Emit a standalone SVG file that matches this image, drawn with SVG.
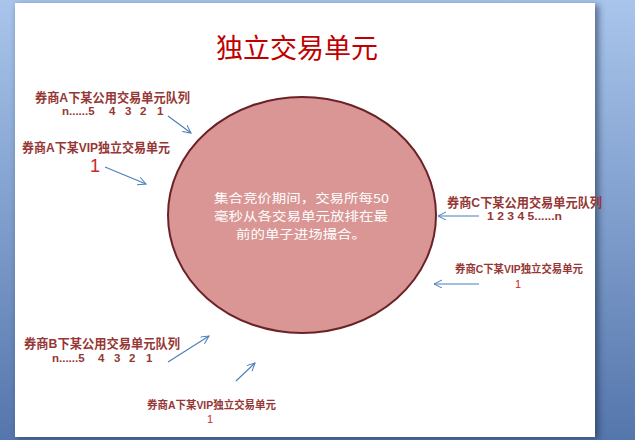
<svg xmlns="http://www.w3.org/2000/svg" width="635" height="440" viewBox="0 0 635 440">
<defs>
<linearGradient id="bg" x1="0" y1="0" x2="0" y2="1">
<stop offset="0" stop-color="#a9c5ec"/>
<stop offset="1" stop-color="#5576ac"/>
</linearGradient>
<filter id="sh" x="-5%" y="-5%" width="110%" height="110%">
<feGaussianBlur stdDeviation="3"/>
</filter>
<marker id="ah" markerWidth="10" markerHeight="10" refX="8" refY="4" orient="auto" markerUnits="userSpaceOnUse">
<path d="M0,0 L8,4 L0,8" fill="none" stroke="#4a7ebb" stroke-width="1"/>
</marker>
<style>
.lbl{font-family:"Liberation Sans","Noto Sans CJK SC",sans-serif;font-weight:bold;fill:#953735}
.red{font-family:"Liberation Sans","Noto Sans CJK SC",sans-serif;fill:#c8282c}
.con{stroke:#4a7ebb;stroke-width:1.1;fill:none;marker-end:url(#ah)}
.ctr{font-family:"Noto Sans CJK SC",sans-serif;font-size:12.4px;fill:#ffffff}
</style>
</defs>
<rect x="0" y="0" width="635" height="440" fill="url(#bg)"/>
<rect x="17" y="5" width="582" height="434" fill="#1e2d48" opacity="0.55" filter="url(#sh)"/>
<rect x="15" y="3" width="580" height="434" fill="#ffffff"/>
<text x="297" y="58" text-anchor="middle" font-family="Noto Sans CJK SC,sans-serif" font-size="27" fill="#c00000">独立交易单元</text>
<g id="center">
<ellipse cx="302" cy="215" rx="134" ry="118" fill="#d99694" stroke="#6b2226" stroke-width="2"/>
<text class="ctr" x="214" y="203" textLength="175" lengthAdjust="spacingAndGlyphs">集合竞价期间，交易所每50</text>
<text class="ctr" x="214" y="221" textLength="174" lengthAdjust="spacingAndGlyphs">毫秒从各交易单元放排在最</text>
<text class="ctr" x="236" y="239" textLength="130" lengthAdjust="spacingAndGlyphs">前的单子进场撮合。</text>
</g>
<g id="a-public">
<text class="lbl" x="35" y="102" font-size="13" textLength="155" lengthAdjust="spacingAndGlyphs">券商A下某公用交易单元队列</text>
<text class="lbl" y="115" font-size="11.5"><tspan x="62">n......5</tspan><tspan x="109">4</tspan><tspan x="125">3</tspan><tspan x="140">2</tspan><tspan x="157">1</tspan></text>
</g>
<g id="a-vip">
<text class="lbl" x="22" y="152" font-size="13" textLength="148" lengthAdjust="spacingAndGlyphs">券商A下某VIP独立交易单元</text>
<text class="red" x="95" y="172" font-size="18" text-anchor="middle">1</text>
</g>
<g id="c-public">
<text class="lbl" x="447" y="207" font-size="13" textLength="155" lengthAdjust="spacingAndGlyphs">券商C下某公用交易单元队列</text>
<text class="lbl" x="487" y="220" font-size="11.5" textLength="75" lengthAdjust="spacingAndGlyphs">1 2 3 4 5......n</text>
</g>
<g id="c-vip">
<text class="lbl" x="455" y="273" font-size="11" textLength="128" lengthAdjust="spacingAndGlyphs">券商C下某VIP独立交易单元</text>
<text class="red" x="518" y="288" font-size="11" text-anchor="middle">1</text>
</g>
<g id="b-public">
<text class="lbl" x="24" y="348" font-size="13" textLength="156" lengthAdjust="spacingAndGlyphs">券商B下某公用交易单元队列</text>
<text class="lbl" y="362" font-size="11.5"><tspan x="52">n......5</tspan><tspan x="98">4</tspan><tspan x="114">3</tspan><tspan x="129">2</tspan><tspan x="146">1</tspan></text>
</g>
<g id="a-vip-2">
<text class="lbl" x="147" y="409" font-size="11" textLength="129" lengthAdjust="spacingAndGlyphs">券商A下某VIP独立交易单元</text>
<text class="red" x="210" y="423" font-size="11" text-anchor="middle">1</text>
</g>
<g id="connectors">
<line class="con" x1="168" y1="116" x2="191" y2="133"/>
<line class="con" x1="105" y1="167" x2="146" y2="184"/>
<line class="con" x1="479" y1="216" x2="438" y2="216"/>
<line class="con" x1="479" y1="284" x2="434" y2="284"/>
<line class="con" x1="168" y1="362" x2="209" y2="336"/>
<line class="con" x1="236" y1="381" x2="255" y2="363"/>
</g>
</svg>
